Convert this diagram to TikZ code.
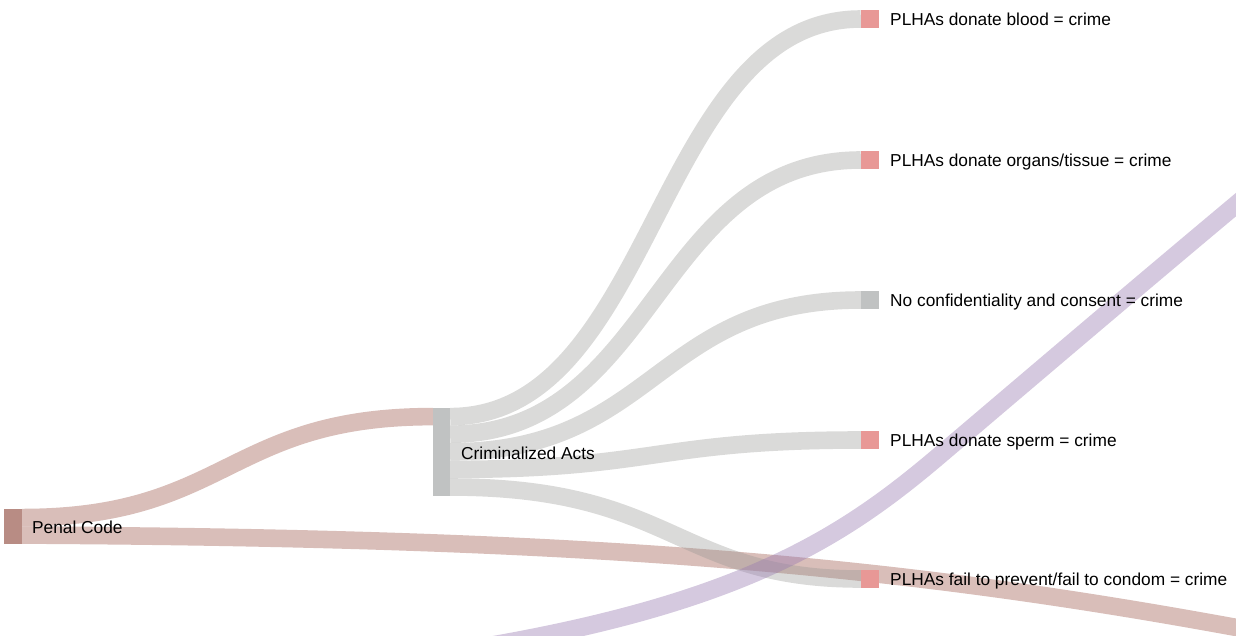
\documentclass[tikz,border=0pt]{standalone}
\usepackage{fontspec}
\setmainfont{Liberation Sans}
\usetikzlibrary{calc,backgrounds}
\definecolor{linkgray}{RGB}{150,150,145}
\definecolor{linkbrown}{RGB}{170,110,100}
\definecolor{linkpurple}{RGB}{150,120,175}
\definecolor{nodebrown}{RGB}{184,140,132}
\definecolor{nodegray}{RGB}{192,194,194}
\definecolor{nodepink}{RGB}{232,152,150}
\begin{document}
\begin{tikzpicture}[x=1pt,y=-1pt,
  bar/.style={rectangle, inner sep=0pt, draw=none, minimum width=18pt, minimum height=18pt},
  lbl/.style={anchor=base west, inner sep=0pt, text=black, font=\fontsize{17.3}{20}\selectfont},
  glink/.style={draw=linkgray, draw opacity=0.35, line width=17.6pt},
  blink/.style={draw=linkbrown, draw opacity=0.45, line width=17.6pt},
  plink/.style={draw=linkpurple, draw opacity=0.4, line width=18pt}
]
\useasboundingbox (0,0) rectangle (1236,635);

% nodes (bars)
\node[bar, fill=nodebrown, minimum height=35pt] (pc) at (13,526.5) {};
\node[bar, fill=nodegray, minimum width=17pt, minimum height=88pt] (ca) at (441.5,452) {};
\node[bar, fill=nodepink] (t1) at (870,19) {};
\node[bar, fill=nodepink] (t2) at (870,160) {};
\node[bar, fill=nodegray] (t3) at (870,300) {};
\node[bar, fill=nodepink] (t4) at (870,440) {};
\node[bar, fill=nodepink] (t5) at (870,579) {};

% free ends of links that leave the picture
\coordinate (pcend) at (1250,630);
\coordinate (pstart) at (445,653);
\coordinate (pmid) at (940,455);
\coordinate (pend) at (1275,172);

% links
\begin{scope}[on background layer]
\clip (0,0) rectangle (1236,635);
\draw[blink] ($(pc.north east)+(0,8.75)$) .. controls +(205.5,0) and +(-205.5,0) .. ($(ca.north west)+(0,8.8)$);
\draw[blink] ($(pc.north east)+(0,26.25)$) .. controls +(578,3) and +(-350,-65) .. (pcend);
\draw[glink] ($(ca.north east)+(0,8.8)$) .. controls +(205.5,0) and +(-205.5,0) .. (t1.west);
\draw[glink] ($(ca.north east)+(0,26.4)$) .. controls +(205.5,0) and +(-205.5,0) .. (t2.west);
\draw[glink] ($(ca.north east)+(0,44)$) .. controls +(205.5,0) and +(-205.5,0) .. (t3.west);
\draw[glink] ($(ca.north east)+(0,61.6)$) .. controls +(205.5,0) and +(-205.5,0) .. (t4.west);
\draw[glink] ($(ca.north east)+(0,79.2)$) .. controls +(225,0) and +(-185,0) .. (t5.west);
\draw[plink] (pstart) .. controls +(290,-45) and +(-100,85) .. (pmid)
                      .. controls +(100,-85) and +(-120,100) .. (pend);
\end{scope}

% labels
\node[lbl] (pcl) at (32,533.3) {Penal Code};
\node[lbl] (cal) at (461,459.2) {Criminalized Acts};
\node[lbl] (l1) at (890,25.2) {PLHAs donate blood = crime};
\node[lbl] (l2) at (890,166.2) {PLHAs donate organs/tissue = crime};
\node[lbl] (l3) at (890,306.2) {No confidentiality and consent = crime};
\node[lbl] (l4) at (890,446.2) {PLHAs donate sperm = crime};
\node[lbl] (l5) at (890,585.2) {PLHAs fail to prevent/fail to condom = crime};
\end{tikzpicture}
\end{document}
